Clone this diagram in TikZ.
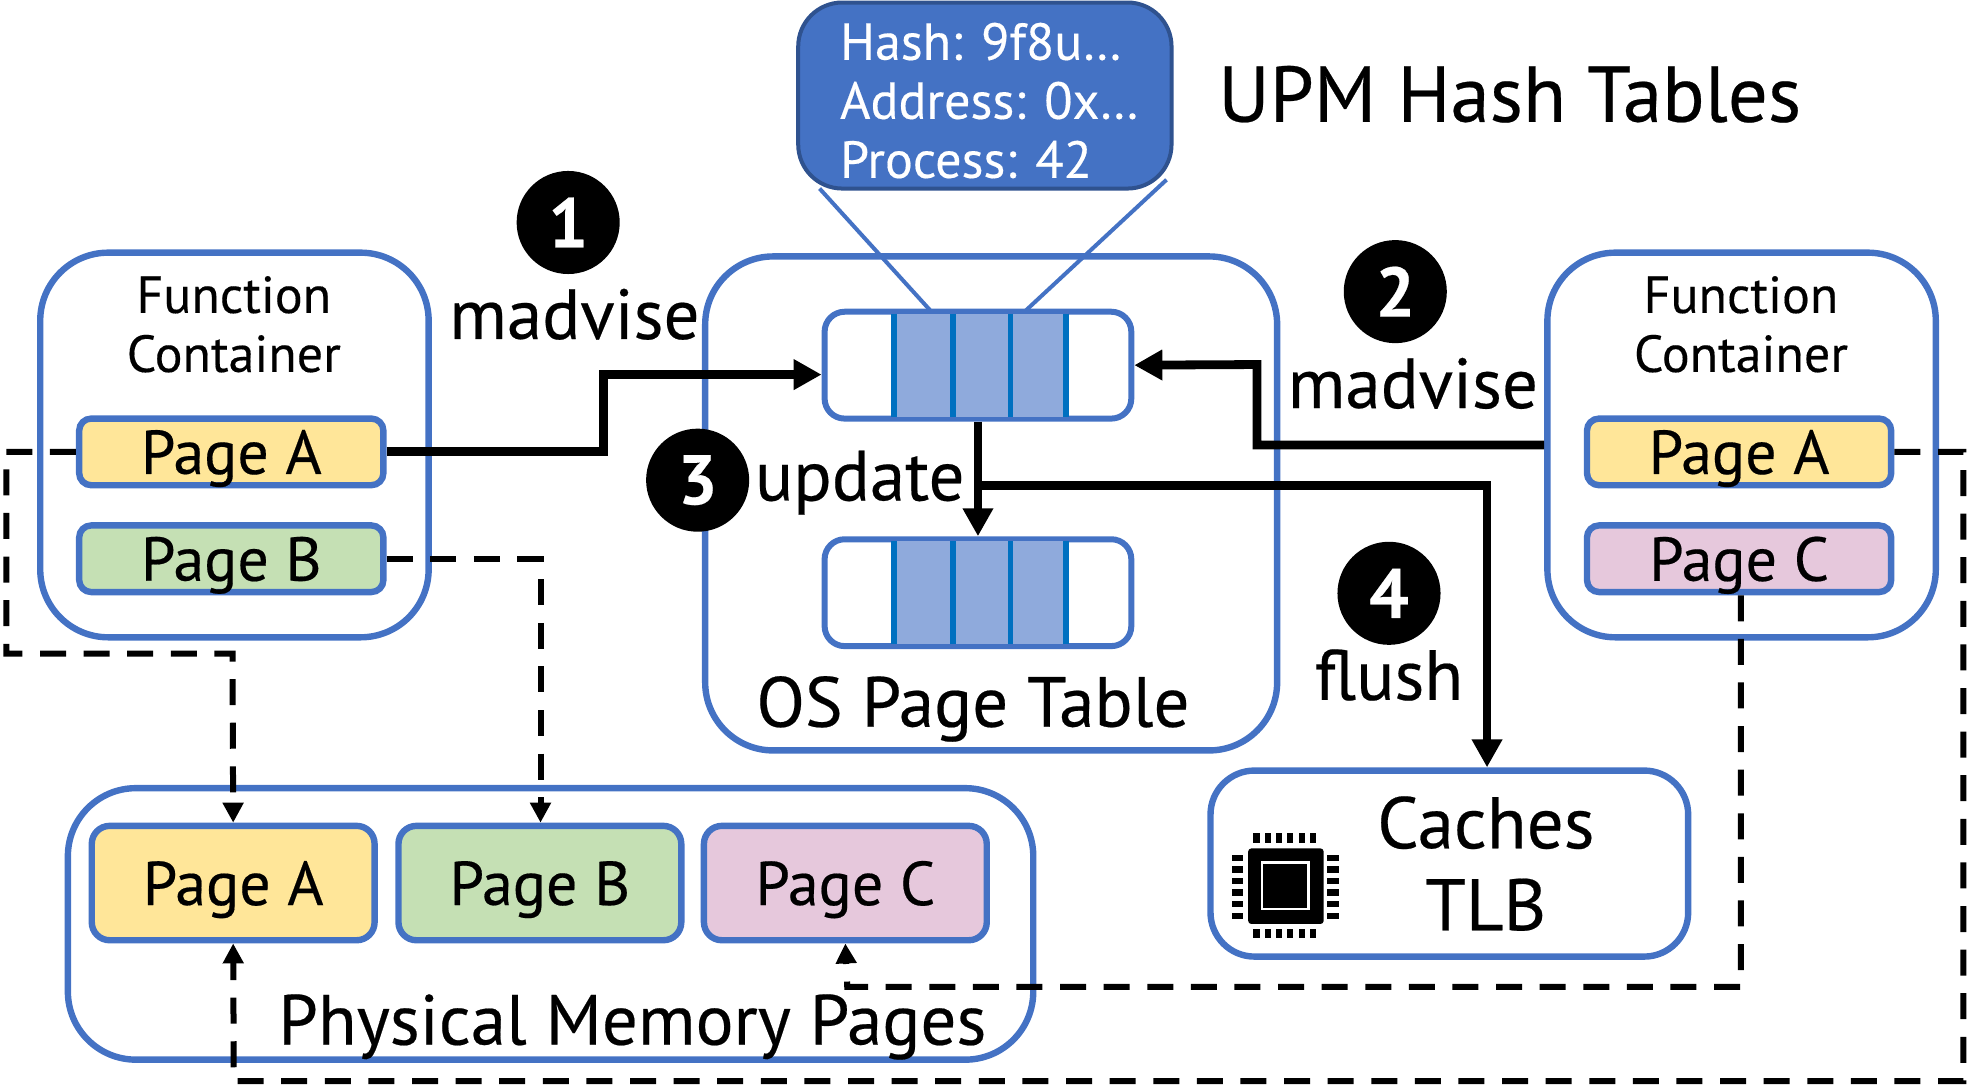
\documentclass[tikz,border=0pt]{standalone}
\usepackage{fontspec}
\setmainfont{PT Sans}[FakeBold=0.3]
\usetikzlibrary{positioning,arrows.meta,calc}
\def\pxu{0.6285pt}
\definecolor{boxblue}{HTML}{4472C4}
\definecolor{boxdark}{HTML}{2F528F}
\definecolor{celllight}{HTML}{8FAADC}
\definecolor{cellline}{HTML}{0070C0}
\definecolor{pageyellow}{HTML}{FFE699}
\definecolor{pagegreen}{HTML}{C5E0B4}
\definecolor{pagepink}{HTML}{E6C8DC}
\tikzset{
	x=\pxu,y=-\pxu,
	bigbox/.style={draw=boxblue,line width=3.2pt,rounded corners=34pt,inner sep=0pt},
	pagebox/.style={draw=boxblue,line width=3.2pt,rounded corners=6pt,inner sep=0pt,text depth=0pt,
		minimum width=242*\pxu,minimum height=53*\pxu,font=\fontsize{31}{34}\selectfont},
	physpage/.style={pagebox,rounded corners=9pt,minimum width=225*\pxu,minimum height=91*\pxu},
	tablebox/.style={draw=boxblue,line width=3pt,rounded corners=10pt,inner sep=0pt,
		minimum width=244*\pxu,minimum height=85*\pxu},
	stepdot/.style={circle,fill=black,text=white,inner sep=0pt,minimum size=82*\pxu,
		font=\fontsize{35}{35}\selectfont\bfseries},
	biglabel/.style={font=\fontsize{35.5}{38}\selectfont,inner sep=0pt},
	smalllabel/.style={font=\fontsize{26}{29.5}\selectfont,align=center,inner sep=0pt},
	solidarrow/.style={line width=4.4pt,-{Triangle[length=14pt,width=14.5pt]}},
	dasharrow/.style={line width=3pt,dash pattern=on 13pt off 8.8pt,-{Triangle[length=10pt,width=10pt]}},
}
\begin{document}
\begin{tikzpicture}
	\useasboundingbox (0,0) rectangle (1568,865.6);
	% boxes
	\node[bigbox,minimum width=309*\pxu,minimum height=306*\pxu] (fcleft) at (186.5,354) {};
	\node[bigbox,minimum width=309*\pxu,minimum height=306*\pxu] (fcright) at (1385.5,354) {};
	\node[bigbox,minimum width=455*\pxu,minimum height=393*\pxu] (ospt) at (788.5,400.5) {};
	\node[bigbox,minimum width=768*\pxu,minimum height=216*\pxu] (phys) at (438,735) {};
	\node[bigbox,rounded corners=22pt,minimum width=380*\pxu,minimum height=148*\pxu] (caches) at (1153,687) {};
	\node[smalllabel] (fcleftlabel) at (186,258) {Function\\Container};
	\node[smalllabel] (fcrightlabel) at (1385,258) {Function\\Container};
	\node[biglabel] (ostext) at (774,564) {OS Page Table};
	\node[biglabel] (physlabel) at (503,817) {Physical Memory Pages};
	\node[biglabel,align=center,font=\fontsize{36.5}{41}\selectfont] (cacheslabel) at (1182,687) {Caches\\TLB};
	\node[biglabel,font=\fontsize{39.5}{42}\selectfont] (upm) at (1201,75) {UPM Hash Tables};
	% hash tables
	\node[tablebox] (tabone) at (778,290.5) {};
	\node[tablebox] (tabtwo) at (778,471.5) {};
	\foreach \t/\y in {one/290.5,two/471.5} {
		\fill[celllight] (711,\y-41) rectangle (848,\y+41);
		\foreach \x in {711,758,804,848}
			\draw[cellline,line width=2.8pt] (\x,\y-41) -- (\x,\y+41);
	}
	\coordinate (hashleft) at (652,150);
	\coordinate (hashright) at (928,143);
	\coordinate (cellleft) at (741,248);
	\coordinate (cellright) at (815,248);
	\draw[boxblue,line width=2pt] (hashleft) -- (cellleft);
	\draw[boxblue,line width=2pt] (hashright) -- (cellright);
	\node[draw=boxdark,fill=boxblue,line width=2pt,rounded corners=22pt,inner sep=0pt,
		minimum width=297*\pxu,minimum height=148*\pxu] (hashbox) at (783.5,76) {};
	\node[smalllabel,text=white,align=left,anchor=west] (hashtext) at (668,80)
		{Hash: 9f8u…\\Address: 0x…\\Process: 42};
	% pages
	\node[pagebox,fill=pageyellow] (leftA) at (184,359.5) {Page A};
	\node[pagebox,fill=pagegreen] (leftB) at (184,444.5) {Page B};
	\node[pagebox,fill=pageyellow] (rightA) at (1383.5,359.5) {Page A};
	\node[pagebox,fill=pagepink] (rightC) at (1383.5,444.5) {Page C};
	\node[physpage,fill=pageyellow] (physA) at (185.5,702.5) {Page A};
	\node[physpage,fill=pagegreen] (physB) at (429.5,702.5) {Page B};
	\node[physpage,fill=pagepink] (physC) at (672.5,702.5) {Page C};
	% chip
	\fill[rounded corners=1.5pt] (993,675) rectangle (1053,735);
	\draw[white,line width=1.2pt] (1004,686) rectangle (1041,723);
	\foreach \k in {0,...,5} {
		\fill (997+\k*9,663) rectangle +(5,7.5);
		\fill (997+\k*9,739) rectangle +(5,7.5);
		\fill (980,680+\k*9.2) rectangle +(9,5);
		\fill (1056,680+\k*9.2) rectangle +(9,5);
	}
	% dashed links
	\draw[dasharrow] (leftB.east) -- (430,444.5) -- (physB.north-|430,0);
	\draw[dasharrow] (leftA.west) -- (5,359.5) -- (5,520) -- (185,520) -- (physA.north);
	\draw[dasharrow] (rightC.south-|1385,0) -- (1385,785) -- (674,785) -- (physC.south);
	\draw[dasharrow] (rightA.east) -- (1562,359.5) -- (1562,860) -- (186,860) -- (physA.south);
	% solid links
	\draw[solidarrow] (leftA.east) -- (480,359.5) -- (480,298) -- (tabone.west|-0,298);
	\draw[solidarrow] (fcright.west|-0,354) -- (1000,354) -- (1000,290) -- (tabone.east);
	\draw[solidarrow] (tabone.south) -- (tabtwo.north);
	\draw[solidarrow] (778,386) -- (1183,386) -- (caches.north-|1183,0);
	% steps
	\node[stepdot] (stepone) at (452,177) {1};
	\node[stepdot] (steptwo) at (1110,232) {2};
	\node[stepdot] (stepthree) at (555,382) {3};
	\node[stepdot] (stepfour) at (1105,472) {4};
	\node[biglabel] (madone) at (457,250) {madvise};
	\node[biglabel] (madtwo) at (1124,305) {madvise};
	\node[biglabel] (updatetext) at (684,384) {update};
	\node[biglabel] (flushtext) at (1105,537) {flush};
\end{tikzpicture}
\end{document}
